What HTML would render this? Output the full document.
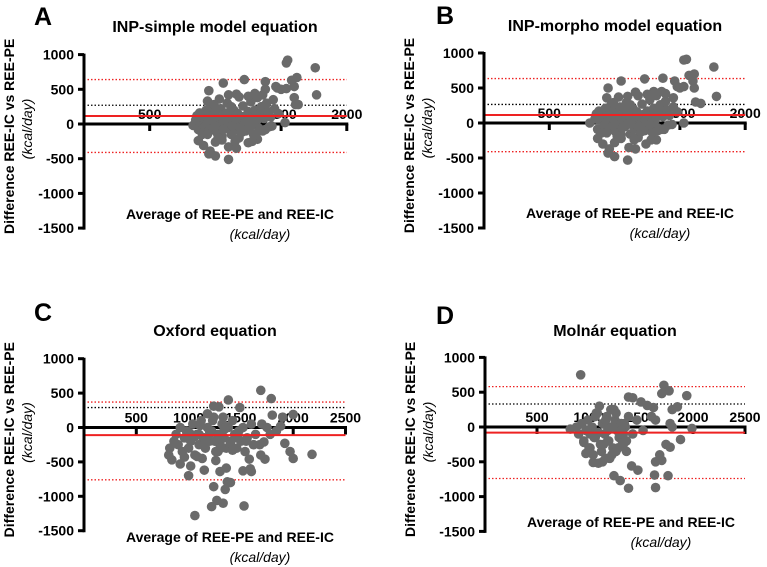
<!DOCTYPE html>
<html><head><meta charset="utf-8"><style>
body{margin:0;background:#fff}
svg{display:block;font-family:"Liberation Sans",Arial,sans-serif}
</style></head><body>
<svg id="chart" width="767" height="567" viewBox="0 0 767 567"></svg>
<script>
// ---- Panel A data ----
const aX=[1550,1540,1760,1620,1580,1600,1600,1610,1630,1770,1460,1470,1500,1540,1530,1440,1430,1380,1380,1220,1060,950,940,1030,1100,1160,1000,960,1000,950,1100,1100,1160,1250,1320,870,910,
830,850,860,870,880,890,900,910,920,930,940,950,960,970,980,990,1000,1010,1020,1030,1040,1050,1060,1070,1080,1090,1100,1110,1120,1130,1140,1150,1160,1170,1180,1190,1200,1210,1220,1230,1240,1250,1260,1270,1280,1290,1300,1310,1320,1330,1340,1350,1360,1370,1390,1400,1410,1420,1450,1480,1360,1300,1250,1180,1120,990,880,870,1050,1150,1200,1280,1330,1380,1000,1060,1130,1230,1270,1310,1190,1090,1020,940];
const aY=[920,880,810,670,630,540,380,280,280,420,540,520,500,510,20,350,-30,610,500,640,590,480,330,360,420,430,-260,-390,-460,-430,-510,-330,-350,-270,-220,-240,-310,
-20,60,120,-80,30,150,-150,80,-40,200,10,-100,120,250,-60,50,180,-120,90,-10,220,-180,40,140,-60,300,-20,100,-150,60,200,-80,20,150,-200,80,-30,260,110,-100,40,180,-50,320,90,-150,200,30,380,-60,150,250,-100,80,300,180,-40,100,220,150,420,440,400,390,250,280,160,100,-230,-250,-120,-250,-100,-80,-30,-80,-30,20,-30,120,-60,160,-200,-150];
const aLines=[115,640,-410,270];
// ---- Panel B data ----
const bX=[1530,1550,1760,1610,1570,1600,1610,1620,1660,1780,1460,1480,1500,1530,1530,1450,1440,1370,1390,1230,1050,950,940,1030,1100,1160,1000,960,1000,950,1100,1110,1160,1240,1320,870,910,
810,850,860,870,880,890,900,910,920,930,940,950,960,970,980,990,1000,1010,1020,1030,1040,1050,1060,1070,1080,1090,1100,1110,1120,1130,1140,1150,1160,1170,1180,1190,1200,1210,1220,1230,1240,1250,1260,1270,1280,1290,1300,1310,1320,1330,1340,1350,1360,1370,1390,1400,1410,1420,1450,1480,1360,1300,1250,1180,1120,990,880,870,1050,1150,1200,1280,1330,1380,1000,1060,1130,1230,1270,1310,1190,1090,1020,940];
const bY=[900,910,800,700,680,600,500,300,280,380,600,520,500,520,0,360,-20,640,420,630,600,500,360,370,380,440,-280,-370,-480,-430,-530,-350,-370,-300,-240,-220,-300,
0,60,130,-90,40,160,-140,90,-30,210,20,-110,130,250,-50,60,190,-130,100,0,230,-170,50,150,-50,290,-10,110,-160,70,210,-90,30,160,-210,90,-20,270,120,-110,50,170,-60,330,100,-140,210,40,390,-70,160,260,-90,90,310,190,-30,110,230,160,450,450,410,390,260,290,170,110,-220,-240,-130,-240,-110,-90,-20,-70,-20,30,-20,130,-50,170,-190,-140];
const bLines=[115,635,-410,265];
// ---- Panel C data ----
const cX=[1690,1790,1380,1240,1290,1490,1800,1900,2000,1880,1920,1970,2000,2180,1840,1730,1690,1600,1590,1520,1300,1360,1370,1400,1350,1240,1270,1220,1330,1530,1060,1000,920,810,840,1020,1150,1580,1720,1780,
820,860,880,900,920,940,960,980,1000,1020,1040,1060,1080,1100,1120,1140,1160,1180,1200,1220,1240,1260,1280,1300,1320,1340,1360,1380,1400,1420,1440,1460,1480,1500,1520,1540,1560,1600,1640,1680,1100,1150,1200,1250,1300,1350,1400,1450,1180,1230,1280,1330,1130,1080,1260,1310,1210,1160,1110,1060,1010,960,1420,1470,1550,1620,1700,1750,1340,1280];
const cY=[540,420,400,310,300,290,180,150,190,20,-230,-350,-450,-390,-50,-460,-400,-640,-600,-630,-640,-590,-790,-800,-900,-860,-1060,-1150,-1100,-1140,-1280,-700,-530,-400,-470,-560,-620,-460,-210,-100,
-300,-200,-100,-250,0,-350,-150,-50,-300,-200,50,-400,-100,-250,100,-150,-300,0,-200,-50,150,-350,-100,-250,50,-150,-300,0,-200,100,-100,-300,-50,-200,0,-350,-150,50,-100,-250,-100,-150,-50,-200,-100,0,-250,-150,200,100,-350,150,-450,-420,-480,-300,-80,-180,30,-130,-80,-430,-330,-150,-200,-250,50,0,-30,-120];
const cLines=[-110,370,-760,290];
// ---- Panel D data ----
const dX=[920,1720,1770,1940,1700,1850,1800,1380,1420,1500,1560,1620,1780,1800,1990,1880,1380,1640,1300,1240,1630,1760,1640,1700,1680,1410,1470,1040,1090,970,950,820,1780,1740,
880,900,930,950,970,990,1010,1030,1050,1070,1090,1110,1130,1150,1170,1190,1210,1230,1250,1270,1290,1310,1330,1350,1380,1420,1000,1040,1080,1120,1160,1200,1240,1280,1320,1360,1060,1100,1140,1180,1220,1260,1300,1340,1130,1180,1230,1280,1330,1010,1060,1160,1210,1260,1310,1360,1460,1520,1600,1640];
const dY=[750,600,520,450,480,290,250,430,420,360,310,280,50,0,-20,-180,-880,-870,-770,-700,-690,-700,-500,-480,-400,-560,-620,-510,-520,-380,-220,-30,-290,-250,
0,-100,50,-200,-50,100,-300,0,-150,200,-80,-250,50,-100,150,-200,0,-300,100,-50,-150,50,-250,0,150,-100,-300,-400,200,-350,100,-450,250,-300,-200,-350,-150,300,-250,-50,-400,200,-100,50,-500,-200,0,-300,-100,-100,150,-450,250,-350,-50,-200,100,-50,150,100];
const dLines=[-80,580,-740,330];

const S='http://www.w3.org/2000/svg';
const svg=document.getElementById('chart');
function el(t,a,p){const e=document.createElementNS(S,t);for(const k in a)e.setAttribute(k,a[k]);(p||svg).appendChild(e);return e;}
function panel(o){
  const g=el('g',{});
  
  
  const sx=v=>o.x0+v/500*o.px;
  const sy=v=>o.y0-v/500*o.py;
  const xEnd=sx(o.xmax);
  let t=el('text',{x:o.lx,y:o.ly,'font-size':25,'font-weight':'bold'},g);t.textContent=o.id.toUpperCase();
  
  t=el('text',{x:o.tx,y:o.ty,'font-size':16,'font-weight':'bold','text-anchor':'middle'},g);t.textContent=o.title;
  
  const [bias,up,lo,blk]=o.lines;
  let l=el('line',{x1:o.x0,x2:xEnd,y1:sy(blk),y2:sy(blk),stroke:'#000','stroke-width':1.3,'stroke-dasharray':'1.5,2'},g);
  
  l=el('line',{x1:o.x0,x2:xEnd,y1:sy(up),y2:sy(up),stroke:'#e22','stroke-width':1.3,'stroke-dasharray':'1.5,2'},g);
  
  l=el('line',{x1:o.x0,x2:xEnd,y1:sy(lo),y2:sy(lo),stroke:'#e22','stroke-width':1.3,'stroke-dasharray':'1.5,2'},g);
  
  l=el('line',{x1:o.x0,x2:xEnd+1.5,y1:sy(0),y2:sy(0),stroke:'#000','stroke-width':3},g);
  
  for(let v=500;v<=o.xmax;v+=500){
    const tk=el('line',{x1:sx(v),x2:sx(v),y1:sy(0),y2:sy(0)+7,stroke:'#000','stroke-width':3},g);
    
    const tl=el('text',{x:sx(v),y:sy(0)-5,'font-size':14,'font-weight':'bold','text-anchor':'middle'},g);tl.textContent=v;
    
  }
  for(let i=0;i<o.xs.length;i++){
    const c=el('circle',{cx:sx(o.xs[i]),cy:sy(o.ys[i]),r:4.8,fill:'#6a6a6a'},g);
    
  }
  l=el('line',{x1:o.x0,x2:xEnd,y1:sy(bias),y2:sy(bias),stroke:'#e22','stroke-width':2},g);
  
  l=el('line',{x1:o.x0,x2:o.x0,y1:sy(1000)-1,y2:sy(-1500)+1.5,stroke:'#000','stroke-width':3},g);
  
  for(let v=1000;v>=-1500;v-=500){
    const tk=el('line',{x1:o.x0-6,x2:o.x0,y1:sy(v),y2:sy(v),stroke:'#000','stroke-width':3},g);
    
    const tl=el('text',{x:o.x0-10,y:sy(v)+5,'font-size':14,'font-weight':'bold','text-anchor':'end'},g);tl.textContent=v;
    
  }
  const ymid=(sy(1000)+sy(-1500))/2;
  t=el('text',{x:0,y:0,'font-size':14,'font-weight':'bold','text-anchor':'middle',transform:`translate(${o.x0-70},${ymid-5}) rotate(-90)`},g);
  t.textContent='Difference REE-IC vs REE-PE';
  t=el('text',{x:0,y:0,'font-size':14,'font-style':'italic','text-anchor':'middle',transform:`translate(${o.x0-52},${sy(0)+5}) rotate(-90)`},g);
  t.textContent='(kcal/day)';
  t=el('text',{x:o.x0+146,y:o.xty,'font-size':14,'font-weight':'bold','text-anchor':'middle'},g);
  t.textContent='Average of REE-PE and REE-IC';
  t=el('text',{x:o.x0+176,y:o.xty+20,'font-size':14,'font-style':'italic','text-anchor':'middle'},g);
  t.textContent='(kcal/day)';
}
panel({id:'a',title:'INP-simple model equation',xs:aX,ys:aY,lines:aLines,x0:84,y0:124,px:65.7,py:34.7,xmax:2000,lx:34,ly:25,tx:215,ty:32,xty:219});
panel({id:'b',title:'INP-morpho model equation',xs:bX,ys:bY,lines:bLines,x0:484,y0:123,px:65.3,py:35,xmax:2000,lx:436,ly:24,tx:615,ty:31,xty:218});
panel({id:'c',title:'Oxford equation',xs:cX,ys:cY,lines:cLines,x0:84,y0:427.5,px:52.3,py:34.4,xmax:2500,lx:34,ly:321,tx:215,ty:336,xty:542});
panel({id:'d',title:'Molnár equation',xs:dX,ys:dY,lines:dLines,x0:485,y0:427,px:52,py:34.8,xmax:2500,lx:436,ly:324,tx:615,ty:336,xty:527});
</script>
</body></html>
